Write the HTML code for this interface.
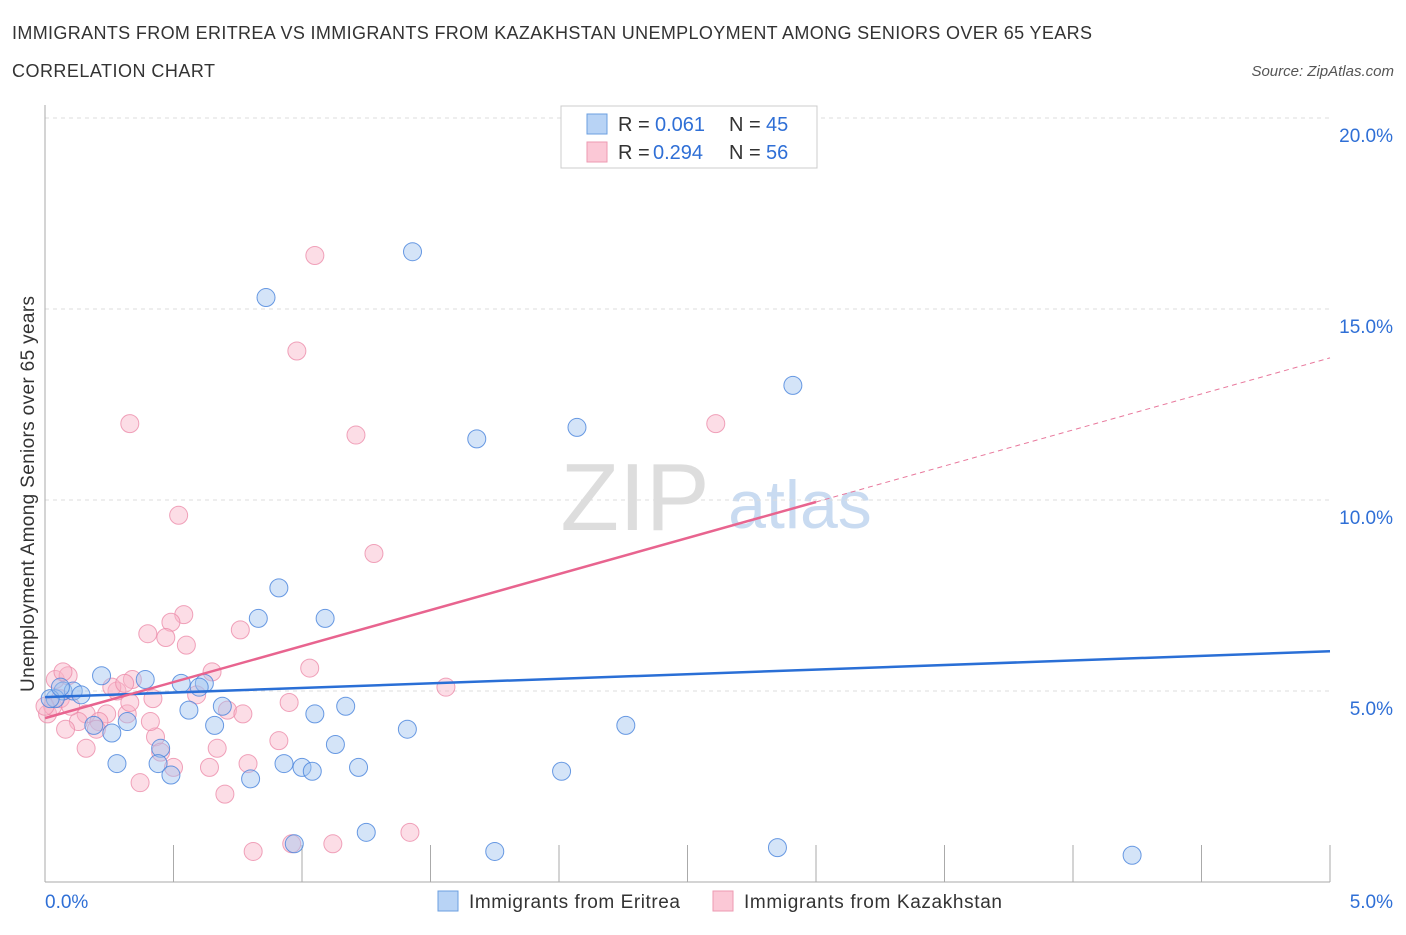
<!DOCTYPE html>
<html><head><meta charset="utf-8"><style>
body{margin:0;background:#fff;font-family:"Liberation Sans",sans-serif;}
svg text{font-family:"Liberation Sans",sans-serif;}
</style></head><body>
<svg id="c" width="1406" height="930">
<text x="12" y="39" font-size="18" fill="#333" textLength="1080">IMMIGRANTS FROM ERITREA VS IMMIGRANTS FROM KAZAKHSTAN UNEMPLOYMENT AMONG SENIORS OVER 65 YEARS</text>
<text x="12" y="77" font-size="18" fill="#333" textLength="203">CORRELATION CHART</text>
<text x="1394" y="76" font-size="15" fill="#555" font-style="italic" text-anchor="end">Source: ZipAtlas.com</text>
<text x="635" y="530" font-size="96" fill="#ddd" font-family="Liberation Serif" text-anchor="middle">ZIP</text>
<text x="800" y="528" font-size="68" fill="#c9dbf1" text-anchor="middle">atlas</text>
<text transform="translate(34,494) rotate(-90)" font-size="19" fill="#333" text-anchor="middle" textLength="396">Unemployment Among Seniors over 65 years</text>
<g id="grid"></g><g id="pts"></g><g id="lines"></g>
<g>
<rect x="561" y="106" width="256" height="62" fill="#fff" stroke="#ccc"/>
<rect x="587" y="114" width="20" height="20" fill="#b8d3f5" stroke="#6b9fe0"/>
<rect x="587" y="142" width="20" height="20" fill="#fbc8d6" stroke="#ec9ab2"/>
<text y="131" font-size="20" fill="#333"><tspan x="618">R =</tspan><tspan x="655" fill="#2f6fd6">0.061</tspan><tspan x="729">N =</tspan><tspan x="766" fill="#2f6fd6">45</tspan></text>
<text y="159" font-size="20" fill="#333"><tspan x="618">R =</tspan><tspan x="653" fill="#2f6fd6">0.294</tspan><tspan x="729">N =</tspan><tspan x="766" fill="#2f6fd6">56</tspan></text>
</g>
<g>
<rect x="438" y="891" width="20" height="20" fill="#b8d3f5" stroke="#6b9fe0"/>
<text x="469" y="908" font-size="19" fill="#333" textLength="211">Immigrants from Eritrea</text>
<rect x="713" y="891" width="20" height="20" fill="#fbc8d6" stroke="#ec9ab2"/>
<text x="744" y="908" font-size="19" fill="#333" textLength="258">Immigrants from Kazakhstan</text>
</g>
</svg>
<script>
const yTicks=[5,10,15,20];
const xTickLabels=["0.0%","5.0%"];
const blueX=[1.43,0.86,2.91,1.68,2.07,0.91,0.83,1.09,0.22,0.39,0.62,0.53,0.60,0.07,0.11,0.14,0.04,0.02,0.69,0.56,1.05,1.17,0.32,0.66,0.19,0.26,1.41,2.26,1.13,0.45,0.44,0.28,0.93,1.00,1.22,1.04,2.01,0.49,0.80,1.25,0.97,1.75,2.85,4.23,0.06];
const blueY=[16.5,15.3,13.0,11.6,11.9,7.7,6.9,6.9,5.4,5.3,5.2,5.2,5.1,5.0,5.0,4.9,4.8,4.8,4.6,4.5,4.4,4.6,4.2,4.1,4.1,3.9,4.0,4.1,3.6,3.5,3.1,3.1,3.1,3.0,3.0,2.9,2.9,2.8,2.7,1.3,1.0,0.8,0.9,0.7,5.1];
const pinkX=[1.05,0.98,0.33,1.21,2.61,0.52,1.28,0.54,0.49,0.40,0.76,0.47,0.55,0.65,1.03,1.56,0.34,0.28,0.26,0.31,0.04,0.09,0.59,0.42,0.95,0.71,0.77,0.24,0.32,0.16,0.13,0.01,0.03,0.21,0.08,0.20,0.43,0.45,0.67,0.91,0.50,0.64,0.79,0.16,0.37,0.70,0.81,0.96,1.12,1.42,0.33,0.06,0.10,0.00,0.41,0.07];
const pinkY=[16.4,13.9,12.0,11.7,12.0,9.6,8.6,7.0,6.8,6.5,6.6,6.4,6.2,5.5,5.6,5.1,5.3,5.0,5.1,5.2,5.3,5.4,4.9,4.8,4.7,4.5,4.4,4.4,4.4,4.4,4.2,4.4,4.6,4.2,4.0,4.0,3.8,3.4,3.5,3.7,3.0,3.0,3.1,3.5,2.6,2.3,0.8,1.0,1.0,1.3,4.7,4.8,4.6,4.6,4.2,5.5];
const blueTrend=[4.84,6.04];
const pinkTrend=[4.29,13.72];
const pinkSolidEnd=3.0;
const X=v=>45+v/5*1285, Y=v=>882-v/5*191;
const NS="http://www.w3.org/2000/svg";
function mk(tag,attrs,parent){const e=document.createElementNS(NS,tag);for(const k in attrs)e.setAttribute(k,attrs[k]);parent.appendChild(e);return e;}
const grid=document.getElementById('grid');
yTicks.forEach(t=>{
 const l=mk('line',{x1:45,x2:1330,y1:Y(t),y2:Y(t),stroke:'#ddd','stroke-dasharray':'4,4'},grid);
 
 
 const tx=mk('text',{x:1393,y:Y(t)+24,'font-size':19,fill:'#2f6fd6','text-anchor':'end'},grid);
 tx.textContent=t.toFixed(1)+'%';
 
 
});
const ax=mk('line',{x1:45,x2:45,y1:105,y2:882,stroke:'#aaa'},grid);


const bx=mk('line',{x1:45,x2:1330,y1:882,y2:882,stroke:'#aaa'},grid);


for(let i=0;i<=10;i++){const x=45+i*128.5;const t=mk('line',{x1:x,x2:x,y1:845,y2:882,stroke:'#aaa'},grid);
 
 }
const xl0=mk('text',{x:45,y:908,'font-size':19,fill:'#2f6fd6'},grid);xl0.textContent=xTickLabels[0];


const xl1=mk('text',{x:1393,y:908,'font-size':19,fill:'#2f6fd6','text-anchor':'end'},grid);xl1.textContent=xTickLabels[1];


const pts=document.getElementById('pts');
pinkX.forEach((v,i)=>{const c=mk('circle',{cx:X(v),cy:Y(pinkY[i]),r:9,fill:'rgba(248,180,200,0.45)',stroke:'rgba(236,140,170,0.8)'},pts);
 
 });
blueX.forEach((v,i)=>{const c=mk('circle',{cx:X(v),cy:Y(blueY[i]),r:9,fill:'rgba(160,195,240,0.45)',stroke:'rgba(70,130,220,0.8)'},pts);
 
 });
const lines=document.getElementById('lines');
const pv=x=>pinkTrend[0]+(pinkTrend[1]-pinkTrend[0])*x/5;
const l1=mk('line',{x1:X(0),y1:Y(blueTrend[0]),x2:X(5),y2:Y(blueTrend[1]),stroke:'#2a6fd6','stroke-width':2.5},lines);


const l2=mk('line',{x1:X(0),y1:Y(pv(0)),x2:X(pinkSolidEnd),y2:Y(pv(pinkSolidEnd)),stroke:'#e8648f','stroke-width':2.5},lines);


const l3=mk('line',{x1:X(pinkSolidEnd),y1:Y(pv(pinkSolidEnd)),x2:X(5),y2:Y(pv(5)),stroke:'#e8789c','stroke-width':1,'stroke-dasharray':'5,4'},lines);


</script>
</body></html>
